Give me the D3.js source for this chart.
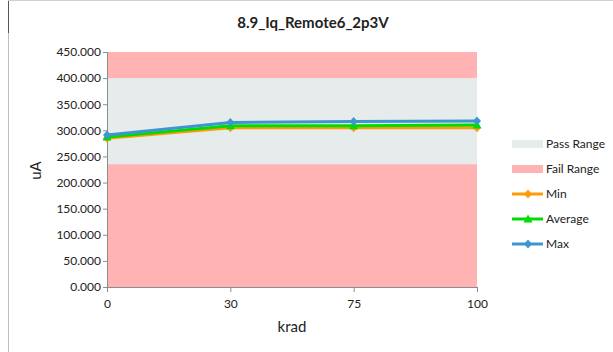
<!DOCTYPE html>
<head>
  <meta charset="utf-8">
  <script src="https://d3js.org/d3.v7.min.js"></script>
  <style>
    body { margin: 0; background: #fff; }
    text { font-family: Lato, "Liberation Sans", Arial, sans-serif; fill: #222; }
  </style>
</head>
<body>
  <script>
    // chart values
    var doses = ['0', '30', '75', '100'];
    var minVals = [285, 305, 305, 305];
    var avgVals = [287, 309, 309, 310];
    var maxVals = [291, 315, 317, 318];
    var yTicks = [0, 50, 100, 150, 200, 250, 300, 350, 400, 450];
    var passRange = [235, 400];
    var failRange = [0, 450];

    var series = [
      { name: 'Min', values: minVals, color: '#FF9A0A', marker: 'diamond' },
      { name: 'Average', values: avgVals, color: '#00DC00', marker: 'triangle' },
      { name: 'Max', values: maxVals, color: '#3D96CF', marker: 'diamond' }
    ];

    var outerWidth = 613, outerHeight = 352;
    var margin = { top: 52, left: 107, right: 136, bottom: 65 };
    var width = outerWidth - margin.left - margin.right,
      height = outerHeight - margin.top - margin.bottom;

    var svg = d3.select('body').append('svg')
      .attr('width', outerWidth)
      .attr('height', outerHeight);

    // outer frame of the chart
    svg.append('line').attr('x1', 8.5).attr('x2', 8.5).attr('y1', 0).attr('y2', outerHeight)
      .attr('stroke', '#bdbdbd');
    svg.append('line').attr('x1', 8.5).attr('x2', 8.5).attr('y1', 0).attr('y2', 33)
      .attr('stroke', '#555');
    svg.append('line').attr('x1', 8).attr('x2', outerWidth).attr('y1', 0.5).attr('y2', 0.5)
      .attr('stroke', '#d0d0d0');

    svg.append('text')
      .attr('x', 313).attr('y', 28)
      .attr('text-anchor', 'middle')
      .style('font-size', '15px').style('font-weight', 'bold')
      .text('8.9_Iq_Remote6_2p3V');

    var g = svg.append('g').attr('transform', 'translate(' + margin.left + ',' + margin.top + ')');

    var xScale = d3.scalePoint().domain(doses).range([0, width]).padding(0);
    var yScale = d3.scaleLinear().domain([0, 450]).range([height, 0]);

    // range bands
    g.append('rect')
      .attr('x', 0).attr('width', width)
      .attr('y', yScale(failRange[1])).attr('height', yScale(failRange[0]) - yScale(failRange[1]))
      .attr('fill', '#FFB3B3');
    g.append('rect')
      .attr('x', 0).attr('width', width)
      .attr('y', yScale(passRange[1])).attr('height', yScale(passRange[0]) - yScale(passRange[1]))
      .attr('fill', '#E6EBEB');

    var yAxis = g.append('g')
      .call(d3.axisLeft(yScale).tickValues(yTicks).tickSize(4).tickFormat(d3.format('.3f')));
    var xAxis = g.append('g').attr('transform', 'translate(0,' + height + ')')
      .call(d3.axisBottom(xScale).tickSize(5).tickPadding(7));
    [yAxis, xAxis].forEach(function(a) {
      a.selectAll('path, line').attr('stroke', '#8c8c8c');
      a.selectAll('text').style('font-size', '12px').attr('fill', '#222')
        .style('font-family', 'Lato, "Liberation Sans", Arial, sans-serif');
    });
    yAxis.selectAll('text').attr('x', -6);

    g.append('text')
      .attr('transform', 'translate(-66,' + (height / 2 + 1) + ') rotate(-90)')
      .attr('text-anchor', 'middle')
      .style('font-size', '15px')
      .text('uA');
    g.append('text')
      .attr('x', width / 2).attr('y', height + 45)
      .attr('text-anchor', 'middle')
      .style('font-size', '15px')
      .text('krad');

    var line = d3.line()
      .x(function(d, i) { return xScale(doses[i]); })
      .y(function(d) { return yScale(d); });

    function marker(sel, type, color) {
      if (type === 'triangle') {
        sel.append('path').attr('d', 'M0,-4.5L4.5,3.5L-4.5,3.5Z').attr('fill', color);
      } else {
        sel.append('path').attr('d', 'M0,-4.5L4,0L0,4.5L-4,0Z').attr('fill', color);
      }
    }

    series.forEach(function(s) {
      g.append('path')
        .datum(s.values)
        .attr('fill', 'none')
        .attr('stroke', s.color)
        .attr('stroke-width', 3)
        .attr('d', line);
      s.values.forEach(function(v, i) {
        var m = g.append('g').attr('transform', 'translate(' + xScale(doses[i]) + ',' + yScale(v) + ')');
        marker(m, s.marker, s.color);
      });
    });

    // legend
    var legend = svg.append('g').attr('transform', 'translate(512,144)');
    var items = [
      { name: 'Pass Range', type: 'rect', color: '#E6EBEB' },
      { name: 'Fail Range', type: 'rect', color: '#FFB3B3' }
    ].concat(series.map(function(s) { return { name: s.name, type: 'line', color: s.color, marker: s.marker }; }));

    items.forEach(function(it, i) {
      var row = legend.append('g').attr('transform', 'translate(0,' + (i * 25) + ')');
      if (it.type === 'rect') {
        row.append('rect').attr('x', 0).attr('y', -4).attr('width', 31).attr('height', 8).attr('fill', it.color);
      } else {
        row.append('line').attr('x1', 0).attr('x2', 31).attr('y1', 0).attr('y2', 0)
          .attr('stroke', it.color).attr('stroke-width', 3);
        marker(row.append('g').attr('transform', 'translate(16,0)'), it.marker, it.color);
      }
      row.append('text').attr('x', 34).attr('y', 4).style('font-size', '12px').text(it.name);
    });
  </script>
</body>
